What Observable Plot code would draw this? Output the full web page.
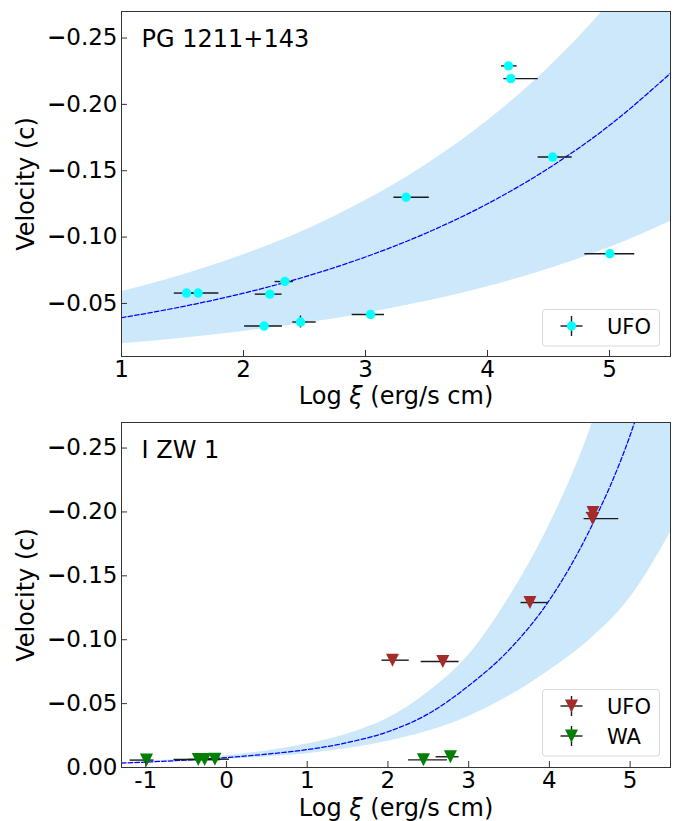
<!DOCTYPE html>
<html><head><meta charset="utf-8">
<script src="https://cdn.jsdelivr.net/npm/d3@7"></script>
<script src="https://cdn.jsdelivr.net/npm/@observablehq/plot@0.6"></script>
<style>
body{margin:0;background:#fff;font-family:"DejaVu Sans",sans-serif;}
#fig{position:relative;width:675px;height:821px;}
.panel{position:relative;width:675px;}
.panel svg{display:block;}
.legend{position:absolute;}
</style></head><body><div id="fig"></div>
<script>
// ---------- Panel 1: PG 1211+143 (UFO) ----------
const pgName = "PG 1211+143";
const pgLogXi   = [1.533, 1.628, 2.169, 2.216, 2.339, 2.467, 3.041, 3.333, 4.172, 4.191, 4.534, 5.003];
const pgVel     = [-0.0578, -0.0578, -0.0330, -0.0570, -0.0665, -0.0360, -0.0417, -0.1300, -0.2290, -0.2194, -0.1603, -0.0874];
const pgXerrLo  = [0.10, 0.10, 0.16, 0.12, 0.08, 0.063, 0.15, 0.10, 0.057, 0.057, 0.119, 0.205];
const pgXerrHi  = [0.10, 0.17, 0.15, 0.10, 0.07, 0.129, 0.115, 0.19, 0.071, 0.225, 0.16, 0.204];
const pgVerr    = [0.002, 0.002, 0.002, 0.002, 0.002, 0.0045, 0.002, 0.002, 0.002, 0.002, 0.002, 0.002];
// fit curve and band
const pgFitX    = [1, 1.5, 2, 2.5, 3, 3.5, 4, 4.5, 5, 5.5];
const pgFitV    = [-0.0392, -0.0476, -0.0577, -0.0700, -0.0850, -0.1031, -0.1251, -0.1518, -0.1842, -0.2235];
const pgBandHi  = [-0.0588, -0.0714, -0.0866, -0.1050, -0.1275, -0.1547, -0.1877, -0.2277, -0.2763, -0.3353];
const pgBandLo  = [-0.0196, -0.0238, -0.0289, -0.0350, -0.0425, -0.0516, -0.0626, -0.0759, -0.0921, -0.1118];
const pgXTicks  = [1, 2, 3, 4, 5];
const pgYTicks  = [-0.25, -0.20, -0.15, -0.10, -0.05];

// ---------- Panel 2: I ZW 1 (UFO + WA) ----------
const izName = "I ZW 1";
const izUfoLogXi  = [2.057, 2.680, 3.759, 4.534, 4.540];
const izUfoVel    = [-0.0840, -0.0829, -0.1291, -0.1948, -0.1995];
const izUfoXerrLo = [0.131, 0.268, 0.111, 0.104, 0.082];
const izUfoXerrHi = [0.207, 0.201, 0.226, 0.325, 0.080];
const izUfoVerr   = [0.002, 0.002, 0.002, 0.002, 0.002];
const izWaLogXi   = [-0.990, -0.349, -0.270, -0.143, 2.440, 2.774];
const izWaVel     = [-0.0058, -0.0063, -0.0063, -0.0065, -0.0060, -0.0084];
const izWaXerrLo  = [0.204, 0.30, 0.20, 0.15, 0.185, 0.177];
const izWaXerrHi  = [0.093, 0.25, 0.20, 0.18, 0.297, 0.107];
const izWaVerr    = [0.0015, 0.0015, 0.0015, 0.0015, 0.0015, 0.0015];
const izFitX      = [-1.3, -0.5, 0, 0.5, 1, 1.5, 2, 2.5, 3, 3.5, 4, 4.5, 5, 5.5];
const izFitV      = [-0.0034, -0.0058, -0.0078, -0.0105, -0.0140, -0.0195, -0.0280, -0.0420, -0.0640, -0.0920, -0.1310, -0.1860, -0.2600, -0.3650];
const izBandHi    = [-0.0036, -0.0066, -0.0092, -0.0130, -0.0183, -0.0262, -0.0385, -0.0590, -0.0880, -0.1330, -0.1900, -0.2640, -0.3650, -0.5000];
const izBandLo    = [-0.0031, -0.0048, -0.0064, -0.0083, -0.0108, -0.0148, -0.0205, -0.0285, -0.0400, -0.0560, -0.0760, -0.1000, -0.1330, -0.1840];
const izXTicks    = [-1, 0, 1, 2, 3, 4, 5];
const izYTicks    = [-0.25, -0.20, -0.15, -0.10, -0.05, 0.00];

// ---------- styling ----------
const colUFO1 = "#00ffff", colUFO2 = "#a52a2a", colWA = "#008000";
const bandFill = "#cce8fa", fitStroke = "#0000ff", errStroke = "#1a1a1a", axisStroke = "#333";

const triDown = {draw(ctx, size) { const r = Math.sqrt(size / Math.PI); ctx.moveTo(0, r); ctx.lineTo(-r, -r); ctx.lineTo(r, -r); ctx.closePath(); }};

function rows(x, v, lo, hi, ye) { return x.map((d, i) => ({x: d, v: v[i], lo: lo[i], hi: hi[i], ye: ye[i]})); }
function band(x, v, hi, lo) { return x.map((d, i) => ({x: d, v: v[i], hi: hi[i], lo: lo[i]})); }

function makePanel(cfg) {
  const W = 675, mL = 121, mR = 5;
  const frameH = cfg.height - cfg.marginTop - cfg.marginBottom;
  const frameW = W - mL - mR;
  const marks = [
    Plot.areaY(cfg.band, {x: "x", y1: "lo", y2: "hi", fill: bandFill, curve: "monotone-x", clip: true}),
    Plot.line(cfg.band, {x: "x", y: "v", stroke: fitStroke, strokeWidth: 1.25, strokeDasharray: "4.5,2.2", curve: "monotone-x", clip: true})
  ];
  for (const s of cfg.series) {
    marks.push(Plot.ruleY(s.data, {y: "v", x1: d => d.x - d.lo, x2: d => d.x + d.hi, stroke: errStroke, strokeWidth: 1.4}));
    marks.push(Plot.ruleX(s.data, {x: "x", y1: d => d.v - d.ye, y2: d => d.v + d.ye, stroke: errStroke, strokeWidth: 1.4}));
    marks.push(Plot.dot(s.data, {x: "x", y: "v", fill: s.color, stroke: "none", r: s.r, symbol: s.symbol}));
  }
  marks.push(
    Plot.frame({stroke: axisStroke, strokeWidth: 1}),
    Plot.ruleX(cfg.xTicks, {x: d => d, insetTop: frameH - 6, stroke: axisStroke, strokeWidth: 1}),
    Plot.ruleY(cfg.yTicks, {y: d => d, insetRight: frameW - 6, stroke: axisStroke, strokeWidth: 1}),
    Plot.axisX({ticks: cfg.xTicks, tickFormat: d => String(d), tickSize: 0, tickPadding: 4, fontSize: 23, label: null}),
    Plot.axisY({ticks: cfg.yTicks, tickFormat: d3.format(".2f"), tickSize: 0, tickPadding: 4, fontSize: 23, label: null}),
    Plot.text([cfg.name], {frameAnchor: "top-left", dx: 20, dy: 28, textAnchor: "start", lineAnchor: "middle", fontSize: 24, fill: "black"}),
    Plot.text(["Velocity (c)"], {frameAnchor: "left", dx: -95, rotate: -90, textAnchor: "middle", lineAnchor: "middle", fontSize: 24, fill: "black"}),
    Plot.text(["Log ξ (erg/s cm)"], {frameAnchor: "bottom", dy: cfg.xLabelDy, textAnchor: "middle", lineAnchor: "middle", fontSize: 24, fill: "black"})
  );
  const svg = Plot.plot({
    width: W, height: cfg.height,
    marginLeft: mL, marginRight: mR, marginTop: cfg.marginTop, marginBottom: cfg.marginBottom,
    x: {domain: cfg.xDomain},
    y: {domain: cfg.yDomain},
    style: {fontFamily: "DejaVu Sans", color: "black", background: "transparent", overflow: "visible"},
    marks
  });
  const ns = "http://www.w3.org/2000/svg";
  svg.querySelectorAll("text").forEach(t => {
    const s = t.textContent;
    if (s === "Log ξ (erg/s cm)") {
      // italic xi as in the mathtext label
      t.textContent = "";
      const a = document.createElementNS(ns, "tspan"); a.textContent = "Log ";
      const b = document.createElementNS(ns, "tspan"); b.textContent = "ξ"; b.setAttribute("font-style", "italic");
      const c = document.createElementNS(ns, "tspan"); c.textContent = " (erg/s cm)";
      t.append(a, b, c);
    } else if (/^\u2212\d\.\d\d$/.test(s)) {
      // heavier minus sign on the y tick labels
      t.textContent = "";
      const a = document.createElementNS(ns, "tspan"); a.textContent = "\u2212"; a.setAttribute("font-weight", "bold");
      const b = document.createElementNS(ns, "tspan"); b.textContent = s.slice(1);
      t.append(a, b);
    }
  });
  const div = document.createElement("div");
  div.className = "panel";
  div.style.height = cfg.height + "px";
  div.appendChild(svg);
  return div;
}

function legendSVG(entries, left, top) {
  const h = 36.5 + (entries.length - 1) * 30;
  let s = `<svg class="legend" style="left:${left}px;top:${top}px" width="120" height="${h + 2}" font-family="DejaVu Sans">`;
  s += `<rect x="0.5" y="0.5" width="117" height="${h}" rx="3" fill="white" fill-opacity="0.8" stroke="#d9d9d9"/>`;
  entries.forEach((e, i) => {
    const cy = 17 + i * 30, cx = 29.5;
    s += `<line x1="${cx - 11}" x2="${cx + 11}" y1="${cy}" y2="${cy}" stroke="${errStroke}" stroke-width="1.4"/>`;
    s += `<line x1="${cx}" x2="${cx}" y1="${cy - 10}" y2="${cy + 10}" stroke="${errStroke}" stroke-width="1.4"/>`;
    if (e.shape === "circle") s += `<circle cx="${cx}" cy="${cy}" r="4.7" fill="${e.color}"/>`;
    else s += `<path d="M${cx},${cy + 6.5}L${cx - 6.5},${cy - 6.5}L${cx + 6.5},${cy - 6.5}Z" fill="${e.color}"/>`;
    s += `<text x="65" y="${cy}" dy="0.36em" font-size="21" fill="black">${e.label}</text>`;
  });
  return s + `</svg>`;
}

const fig = document.getElementById("fig");

const p1 = makePanel({
  name: pgName, height: 410, marginTop: 11, marginBottom: 54, xLabelDy: 40,
  xDomain: [1, 5.5], yDomain: [-0.01, -0.27], xTicks: pgXTicks, yTicks: pgYTicks,
  band: band(pgFitX, pgFitV, pgBandHi, pgBandLo),
  series: [{data: rows(pgLogXi, pgVel, pgXerrLo, pgXerrHi, pgVerr), color: colUFO1, r: 4.7, symbol: "circle"}]
});
p1.insertAdjacentHTML("beforeend", legendSVG([{label: "UFO", color: colUFO1, shape: "circle"}], 542, 309));
fig.appendChild(p1);

const p2 = makePanel({
  name: izName, height: 411, marginTop: 12, marginBottom: 54, xLabelDy: 41,
  xDomain: [-1.3, 5.5], yDomain: [0, -0.27], xTicks: izXTicks, yTicks: izYTicks,
  band: band(izFitX, izFitV, izBandHi, izBandLo),
  series: [
    {data: rows(izUfoLogXi, izUfoVel, izUfoXerrLo, izUfoXerrHi, izUfoVerr), color: colUFO2, r: 6.5, symbol: triDown},
    {data: rows(izWaLogXi, izWaVel, izWaXerrLo, izWaXerrHi, izWaVerr), color: colWA, r: 6.5, symbol: triDown}
  ]
});
p2.insertAdjacentHTML("beforeend", legendSVG([{label: "UFO", color: colUFO2, shape: "tri"}, {label: "WA", color: colWA, shape: "tri"}], 542, 279));
fig.appendChild(p2);
</script>
</body></html>
